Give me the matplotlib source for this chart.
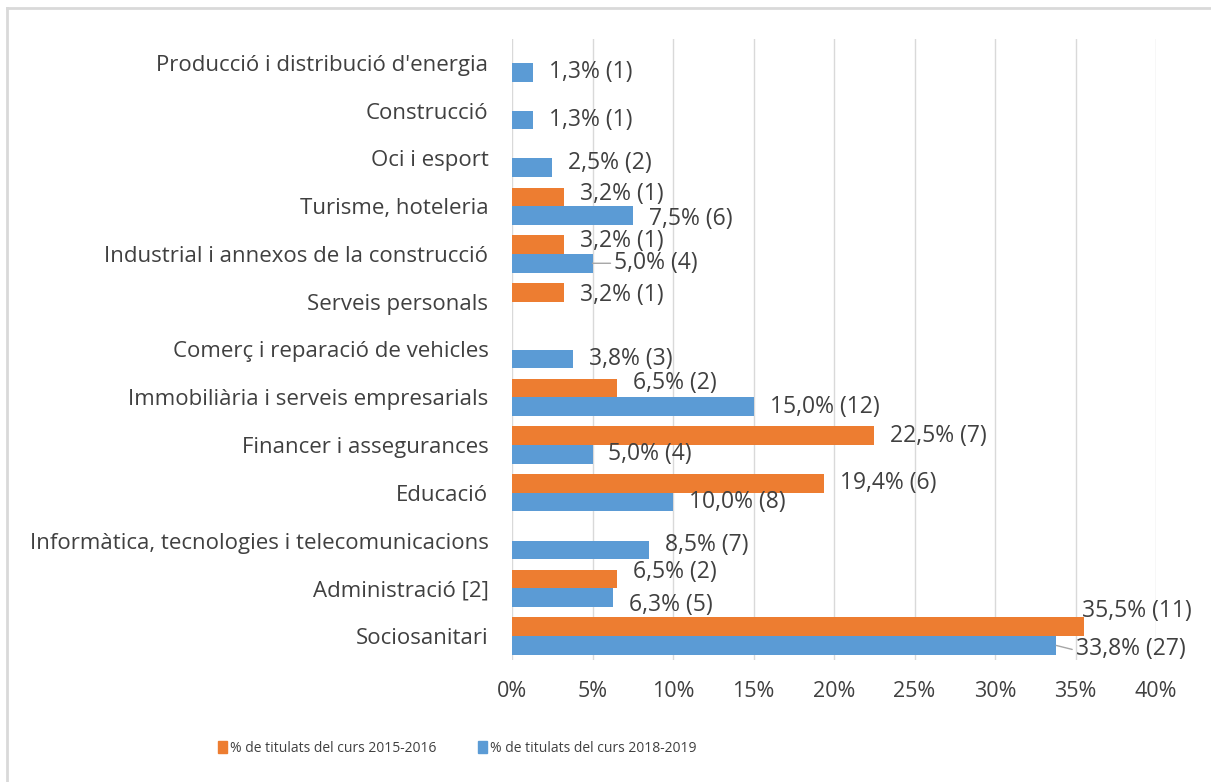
import matplotlib
matplotlib.use("Agg")
import matplotlib.pyplot as plt
from matplotlib.patches import Rectangle
from matplotlib.lines import Line2D
import numpy as np

plt.rcParams['font.family'] = ['Open Sans', 'DejaVu Sans']

categories = [
    "Producció i distribució d'energia",
    "Construcció",
    "Oci i esport",
    "Turisme, hoteleria",
    "Industrial i annexos de la construcció",
    "Serveis personals",
    "Comerç i reparació de vehicles",
    "Immobiliària i serveis empresarials",
    "Financer i assegurances",
    "Educació",
    "Informàtica, tecnologies i telecomunicacions",
    "Administració [2]",
    "Sociosanitari",
]
pct_2015 = [None, None, None, 3.2, 3.2, 3.2, None, 6.5, 22.5, 19.4, None, 6.5, 35.5]
cnt_2015 = [None, None, None, 1, 1, 1, None, 2, 7, 6, None, 2, 11]
pct_2018 = [1.3, 1.3, 2.5, 7.5, 5.0, None, 3.8, 15.0, 5.0, 10.0, 8.5, 6.3, 33.8]
cnt_2018 = [1, 1, 2, 6, 4, None, 3, 12, 4, 8, 7, 5, 27]
series_names = ["% de titulats del curs 2015-2016", "% de titulats del curs 2018-2019"]
xticks = [0, 5, 10, 15, 20, 25, 30, 35, 40]

# label placement tweaks (pixels): (series, category index) -> (dx, dy, leader)
label_adjust = {
    (0, 12): (-18, 16, False),
    (1, 12): (4, -4, True),
    (1, 4): (6, 0, True),
    (0, 11): (0, 7, False),
    (1, 11): (0, -7, False),
    (1, 10): (0, 5, False),
    (0, 7): (0, 5, False),
    (1, 2): (0, 5, False),
    (0, 3): (0, 3, False),
    (1, 3): (0, -3, False),
    (0, 4): (0, 4, False),
    (0, 5): (0, -3, False),
}

ORANGE = "#ED7D31"
BLUE = "#5B9BD5"
TXT = "#404040"

W, H = 1211, 782
fig = plt.figure(figsize=(W / 100, H / 100), dpi=100)
ax = fig.add_axes([512 / W, 1 - 660 / H, (1156 - 512) / W, (660 - 39) / H])

n = len(categories)
ypos = np.arange(n)[::-1]
h = 0.39

def fmt(p, c):
    return f"{p:.1f}".replace(".", ",") + f"% ({c})"

for s, (pcts, cnts, col, off) in enumerate([(pct_2015, cnt_2015, ORANGE, h / 2),
                                            (pct_2018, cnt_2018, BLUE, -h / 2)]):
    for i, (p, c) in enumerate(zip(pcts, cnts)):
        if p is None:
            continue
        y = ypos[i] + off
        ax.barh(y, p, height=h, color=col, zorder=3)
        dx, dy, leader = label_adjust.get((s, i), (0, 0, False))
        ax.annotate(fmt(p, c), xy=(p, y), xytext=(16 + dx, dy),
                    textcoords='offset pixels', ha='left', va='center',
                    fontsize=16.5, color=TXT, zorder=4)
        if leader:
            ax.annotate("", xy=(p, y), xytext=(16 + dx - 4, dy),
                        textcoords='offset pixels',
                        arrowprops=dict(arrowstyle='-', color='#a6a6a6', lw=1,
                                        shrinkA=0, shrinkB=0))

ax.set_xlim(0, 40)
ax.set_ylim(-0.5, n - 0.5)
ax.set_xticks(xticks)
ax.set_xticklabels([f"{t}%" for t in xticks], fontsize=15.5, color=TXT)
ax.set_yticks(ypos)
ax.set_yticklabels(categories, fontsize=16, color=TXT)
ax.tick_params(axis='x', length=0, pad=15)
ax.tick_params(axis='y', length=0, pad=17)
ax.grid(axis='x', color='#d9d9d9', lw=1, zorder=0)
for sp in ax.spines.values():
    sp.set_visible(False)

handles = [Rectangle((0, 0), 1, 1, color=ORANGE), Rectangle((0, 0), 1, 1, color=BLUE)]
fig.legend(handles, series_names, loc='center', bbox_to_anchor=(457 / W, 1 - 748 / H),
           ncol=2, frameon=False, fontsize=10, handlelength=0.65, handleheight=1.0,
           handletextpad=0.2, columnspacing=3.0, labelcolor=TXT)

# chart-area border (only top and left edges visible in the image)
fig.add_artist(Line2D([7 / W, 1], [1 - 8 / H, 1 - 8 / H], transform=fig.transFigure,
                      color='#d9d9d9', lw=2))
fig.add_artist(Line2D([7 / W, 7 / W], [0, 1 - 8 / H], transform=fig.transFigure,
                      color='#d9d9d9', lw=2))

fig.savefig("out.png", dpi=100, facecolor='white')
